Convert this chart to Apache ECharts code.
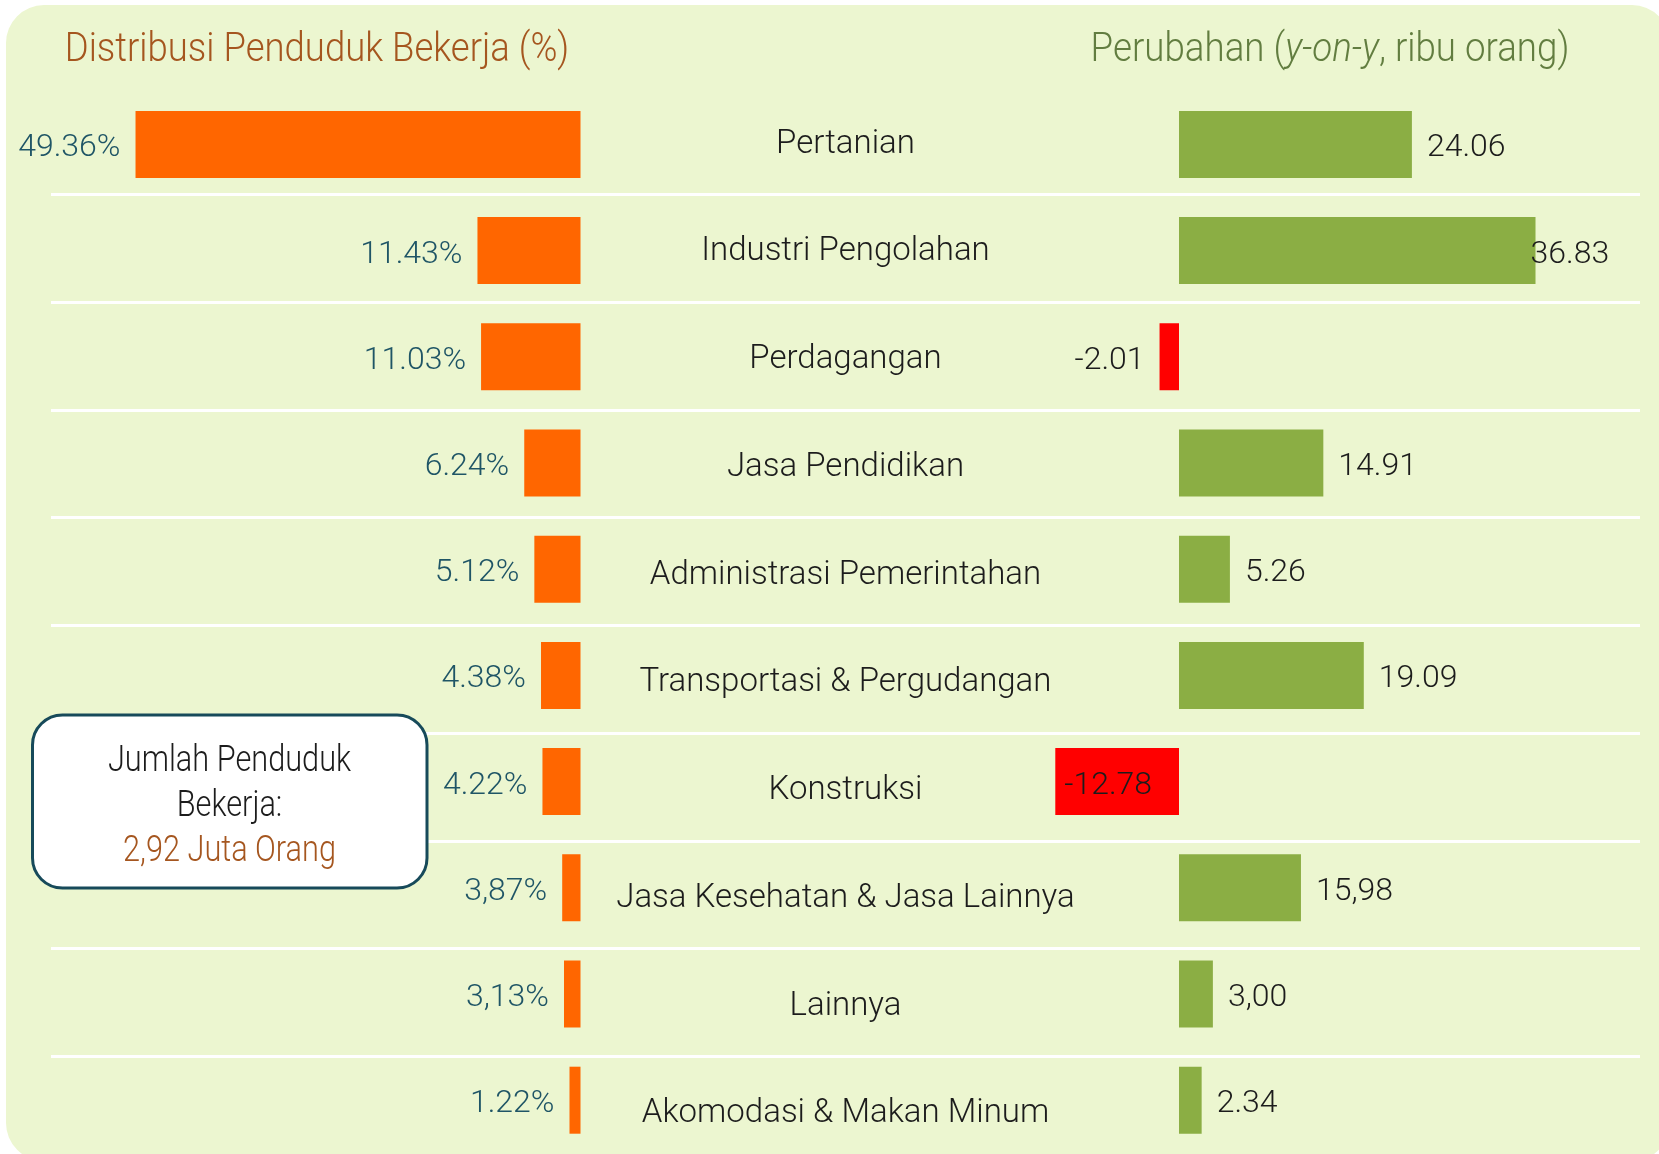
<!DOCTYPE html>
<html>
<head>
<meta charset="utf-8">
<title>Penduduk Bekerja menurut Lapangan Usaha</title>
<script src="https://cdn.jsdelivr.net/npm/echarts@6.0.0/dist/echarts.min.js"></script>
<style>
  html, body { margin: 0; padding: 0; background: #ffffff; }
  #chart { width: 1659px; height: 1154px; }
</style>
</head>
<body>
<div id="chart"></div>
<script>
// sektor lapangan usaha, urut dari atas
const sectors = [
  'Pertanian', 'Industri Pengolahan', 'Perdagangan', 'Jasa Pendidikan',
  'Administrasi Pemerintahan', 'Transportasi & Pergudangan', 'Konstruksi',
  'Jasa Kesehatan & Jasa Lainnya', 'Lainnya', 'Akomodasi & Makan Minum'
];
// panjang batang distribusi (%) seperti tergambar
const shareValues = [49.36, 11.43, 11.03, 6.24, 5.12, 4.38, 4.22, 2.03, 1.83, 1.22];
const shareLabels = ['49.36%', '11.43%', '11.03%', '6.24%', '5.12%', '4.38%', '4.22%', '3,87%', '3,13%', '1.22%'];
// perubahan y-on-y (ribu orang)
const changeValues = [24.06, 36.83, -2.01, 14.91, 5.26, 19.09, -12.78, 12.6, 3.5, 2.34];
const changeLabels = ['24.06', '36.83', '-2.01', '14.91', '5.26', '19.09', '-12.78', '15,98', '3,00', '2.34'];

const fontFamily = "Roboto, 'Liberation Sans', sans-serif";
const orange = '#ff6600';
const green = '#8bae44';
const red = '#ff0000';
const bgGreen = '#ecf6d0';
const tealText = '#1f5566';
const darkText = '#1c1c1c';
const brown = '#a5561f';
const olive = '#627d40';

const chart = echarts.init(document.getElementById('chart'));

const barTop = 91.3;
const barHeight = 1062;

chart.setOption({
  animation: false,
  textStyle: { fontFamily: fontFamily, fontWeight: 300 },
  graphic: [
    {
      type: 'rect', z: -100, silent: true,
      shape: { x: 6, y: 5, width: 1664, height: 1156, r: 38 },
      style: { fill: bgGreen }
    },
    {
      type: 'text', z: 50, x: 317, y: 51, scaleX: 0.89,
      style: {
        x: 0, y: 0, text: 'Distribusi Penduduk Bekerja (%)',
        fill: brown, fontSize: 41, fontWeight: 300, fontFamily: fontFamily,
        textAlign: 'center', textVerticalAlign: 'middle'
      }
    },
    {
      type: 'text', z: 50, x: 1330, y: 51, scaleX: 0.895,
      style: {
        x: 0, y: 0,
        text: '{n|Perubahan (}{i|y-on-y}{n|, ribu orang)}',
        textAlign: 'center', textVerticalAlign: 'middle',
        rich: {
          n: { fontSize: 41, fontWeight: 300, fontFamily: fontFamily, fill: olive },
          i: { fontSize: 41, fontWeight: 300, fontFamily: fontFamily, fill: olive, fontStyle: 'italic' }
        }
      }
    },
    {
      type: 'rect', z: 100,
      shape: { x: 32.5, y: 715, width: 394.5, height: 173, r: 30 },
      style: { fill: '#ffffff', stroke: '#174a5a', lineWidth: 3 }
    },
    {
      type: 'text', z: 101, x: 229.5, y: 807, scaleX: 0.83,
      style: {
        x: 0, y: 0,
        text: '{a|Jumlah Penduduk}\n{a|Bekerja:}\n{b|2,92 Juta Orang}',
        textAlign: 'center', textVerticalAlign: 'middle',
        rich: {
          a: { fontSize: 37, lineHeight: 45, fontWeight: 300, fontFamily: fontFamily, fill: darkText },
          b: { fontSize: 37, lineHeight: 45, fontWeight: 300, fontFamily: fontFamily, fill: brown }
        }
      }
    }
  ],
  grid: [
    { left: 39.6, width: 540.9, top: barTop, height: barHeight, outerBoundsMode: 'none' },
    { left: 1033.8, width: 580.8, top: barTop, height: barHeight, outerBoundsMode: 'none' },
    // garis pemisah antar baris
    { left: 51, width: 1589, top: 86.5, height: 1077.5, outerBoundsMode: 'none' },
    // nama sektor di tengah
    { left: 51, width: 1589, top: 90.5, height: 1077.5, outerBoundsMode: 'none' }
  ],
  xAxis: [
    { gridIndex: 0, type: 'value', min: 0, max: 60, inverse: true, show: false },
    { gridIndex: 1, type: 'value', min: -15, max: 45, show: false },
    { gridIndex: 2, type: 'value', min: 0, max: 1, show: false },
    { gridIndex: 3, type: 'value', min: 0, max: 1, show: false }
  ],
  yAxis: [
    { gridIndex: 0, type: 'category', data: sectors, inverse: true, show: false },
    { gridIndex: 1, type: 'category', data: sectors, inverse: true, show: false },
    {
      gridIndex: 2, type: 'category', data: sectors, inverse: true,
      axisLine: { show: false },
      axisTick: { show: false },
      axisLabel: { show: false },
      splitLine: {
        show: true, showMinLine: false, showMaxLine: false,
        lineStyle: { color: '#ffffff', width: 3 }
      }
    },
    {
      gridIndex: 3, type: 'category', data: sectors, inverse: true,
      axisLine: { show: false },
      axisTick: { show: false },
      splitLine: { show: false },
      axisLabel: {
        align: 'center', margin: -794.5,
        fontSize: 33, fontWeight: 300, color: darkText, fontFamily: fontFamily
      }
    }
  ],
  series: [
    {
      name: 'Distribusi',
      type: 'bar',
      xAxisIndex: 0, yAxisIndex: 0,
      barWidth: 67,
      itemStyle: { color: orange },
      label: {
        show: true, position: 'left', distance: 15, offset: [0, 4],
        fontSize: 32, fontWeight: 300, color: tealText, fontFamily: fontFamily,
        formatter: (p) => shareLabels[p.dataIndex]
      },
      data: shareValues
    },
    {
      name: 'Perubahan',
      type: 'bar',
      xAxisIndex: 1, yAxisIndex: 1,
      barWidth: 67,
      label: {
        show: true, offset: [0, 4], fontSize: 32, fontWeight: 300, color: darkText, fontFamily: fontFamily,
        formatter: (p) => changeLabels[p.dataIndex]
      },
      data: changeValues.map((v) => {
        let position = 'right';
        let distance = 15;
        if (v < 0) {
          position = v < -10 ? 'insideLeft' : 'left';
          distance = v < -10 ? 9 : 15;
        } else if (v > 30) {
          distance = -5;
        }
        return {
          value: v,
          itemStyle: { color: v < 0 ? red : green },
          label: { position: position, distance: distance }
        };
      })
    }
  ]
});
</script>
</body>
</html>
